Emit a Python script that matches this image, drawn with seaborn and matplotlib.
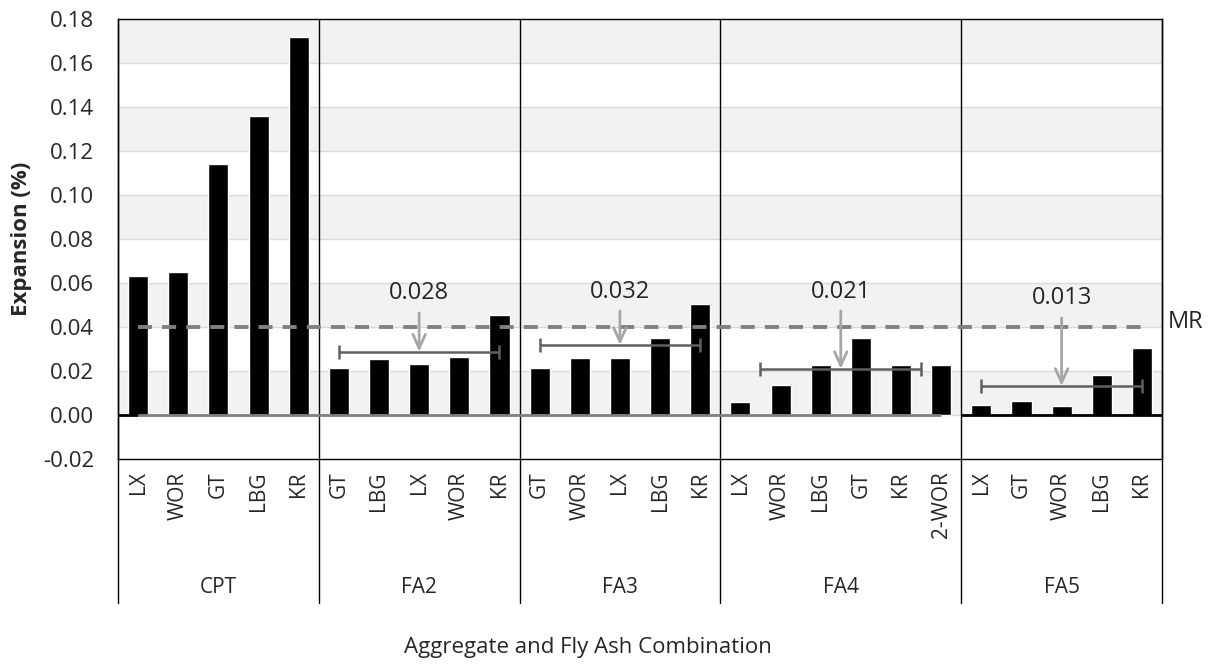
import numpy as np
import pandas as pd
import matplotlib
matplotlib.use("Agg")
import matplotlib.pyplot as plt
import seaborn as sns
from matplotlib.transforms import blended_transform_factory

# ---------------- data ----------------
groups = ["CPT", "FA2", "FA3", "FA4", "FA5"]
cpt_aggs = ["LX", "WOR", "GT", "LBG", "KR"]
cpt_vals = [0.063, 0.065, 0.114, 0.136, 0.172]
fa2_aggs = ["GT", "LBG", "LX", "WOR", "KR"]
fa2_vals = [0.0215, 0.0253, 0.0233, 0.0265, 0.0453]
fa3_aggs = ["GT", "WOR", "LX", "LBG", "KR"]
fa3_vals = [0.0215, 0.0259, 0.0259, 0.0349, 0.0505]
fa4_aggs = ["LX", "WOR", "LBG", "GT", "KR", "2-WOR"]
fa4_vals = [0.0059, 0.0136, 0.0227, 0.0350, 0.0227, 0.0227]
fa5_aggs = ["LX", "GT", "WOR", "LBG", "KR"]
fa5_vals = [0.0047, 0.0065, 0.0041, 0.0182, 0.0305]

mean_groups = ["FA2", "FA3", "FA4", "FA5"]
mean_labels = ["0.028", "0.032", "0.021", "0.013"]
mean_values = [0.0288, 0.0318, 0.0209, 0.0132]
mr_value = 0.04
mr_label = "MR"
y_ticks = [-0.02, 0.0, 0.02, 0.04, 0.06, 0.08, 0.10, 0.12, 0.14, 0.16, 0.18]

# ---------------- layout (not data) ----------------
label_heights = [0.0556, 0.0560, 0.0560, 0.0532]
arrow_tops = [0.0464, 0.0473, 0.0473, 0.0441]

aggs_by_group = [cpt_aggs, fa2_aggs, fa3_aggs, fa4_aggs, fa5_aggs]
vals_by_group = [cpt_vals, fa2_vals, fa3_vals, fa4_vals, fa5_vals]

rows = []
for g, aggs, vals in zip(groups, aggs_by_group, vals_by_group):
    for a, v in zip(aggs, vals):
        rows.append({"group": g, "agg": a, "key": f"{g}|{a}", "value": v})
df = pd.DataFrame(rows)
keys = list(df["key"])
n = len(keys)

sns.set_style("white")
plt.rcParams["font.family"] = ["Open Sans", "DejaVu Sans"]
text_color = "#262626"

fig = plt.figure(figsize=(12.15, 6.64), dpi=100)
ax = fig.add_axes([118 / 1215, 1 - 459 / 664, 1044 / 1215, 440 / 664])

# alternating bands
for i in range(len(y_ticks) - 1):
    lo, hi = y_ticks[i], y_ticks[i + 1]
    if i % 2 == 1:
        ax.axhspan(lo, hi, color="#f2f2f2", zorder=0, lw=0)
for t in y_ticks[1:-1]:
    ax.axhline(t, color="#d9d9d9", lw=1, zorder=0.5)

sns.barplot(data=df, x="key", y="value", order=keys, color="black",
            saturation=1, width=0.5, ax=ax, zorder=2)

ax.set_xlim(-0.5, n - 0.5)
ax.set_ylim(y_ticks[0], y_ticks[-1])
ax.set_yticks(y_ticks)
ax.set_yticklabels([f"{t:.2f}" for t in y_ticks], fontsize=16, color=text_color)
ax.set_xticks(range(n))
ax.set_xticklabels(list(df["agg"]), rotation=90, fontsize=15, color=text_color,
                   va="top", ha="center")
ax.tick_params(axis="x", length=0, pad=9)
ax.tick_params(axis="y", length=0, pad=17)
ax.set_xlabel("")
ax.set_ylabel("")
for s in ax.spines.values():
    s.set_color("black")
    s.set_linewidth(1)

# group boundaries
starts = []
idx = 0
for aggs in aggs_by_group:
    starts.append(idx)
    idx += len(aggs)
ends = [s + len(a) - 1 for s, a in zip(starts, aggs_by_group)]
trans = blended_transform_factory(ax.transData, ax.transAxes)
bounds = [-0.5] + [e + 0.5 for e in ends]
for b in bounds:
    ax.plot([b, b], [1, -0.327], transform=trans, color="black", lw=1,
            clip_on=False, zorder=3)
for g, s, e in zip(groups, starts, ends):
    ax.text((s + e) / 2, -0.291, g, transform=trans, ha="center", va="center",
            fontsize=15, color=text_color)

# zero line
ax.plot([-0.5, 0], [0, 0], color="black", lw=2, zorder=3, solid_capstyle="butt")
ax.plot([0, ends[3]], [0, 0], color="#808080", lw=2, zorder=3, solid_capstyle="butt")
ax.plot([starts[4] - 0.5, n - 0.5], [0, 0], color="black", lw=2, zorder=3,
        solid_capstyle="butt")

# MR dashed line
ax.plot([0, n - 1], [mr_value, mr_value], color="#808080", lw=2.8,
        dashes=(3.6, 2.6), zorder=4)
ax.text(n - 0.5 + 0.15, mr_value + 0.0024, mr_label, ha="left", va="center",
        fontsize=17, color=text_color, clip_on=False)

# mean lines with caps + arrows + labels
for g, lab, mv, ly, at in zip(mean_groups, mean_labels, mean_values,
                              label_heights, arrow_tops):
    gi = groups.index(g)
    s, e = starts[gi], ends[gi]
    x0, x1 = s, e
    if g == "FA4":
        x0, x1 = s + 0.5, e - 0.5
    mid = (x0 + x1) / 2
    ax.errorbar([mid], [mv], xerr=[[mid - x0], [x1 - mid]], fmt="none",
                ecolor="#606060", elinewidth=1.8, capsize=5, capthick=1.8, zorder=5)
    cx = (s + e) / 2
    ax.annotate("", xy=(cx, mv), xytext=(cx, at),
                arrowprops=dict(arrowstyle="->,head_length=1.0,head_width=0.45",
                                color="#a6a6a6", lw=2, shrinkA=0, shrinkB=0),
                zorder=6)
    ax.text(cx, ly, lab, ha="center", va="center", fontsize=17, color=text_color,
            zorder=6)

fig.text(588 / 1215, 1 - 648 / 664, "Aggregate and Fly Ash Combination",
         ha="center", va="center", fontsize=16, color=text_color)
fig.text(22 / 1215, 1 - 239 / 664, "Expansion (%)", rotation=90, ha="center",
         va="center", fontsize=16, fontweight="bold", color=text_color)

fig.savefig("out.png", dpi=100, facecolor="white")
